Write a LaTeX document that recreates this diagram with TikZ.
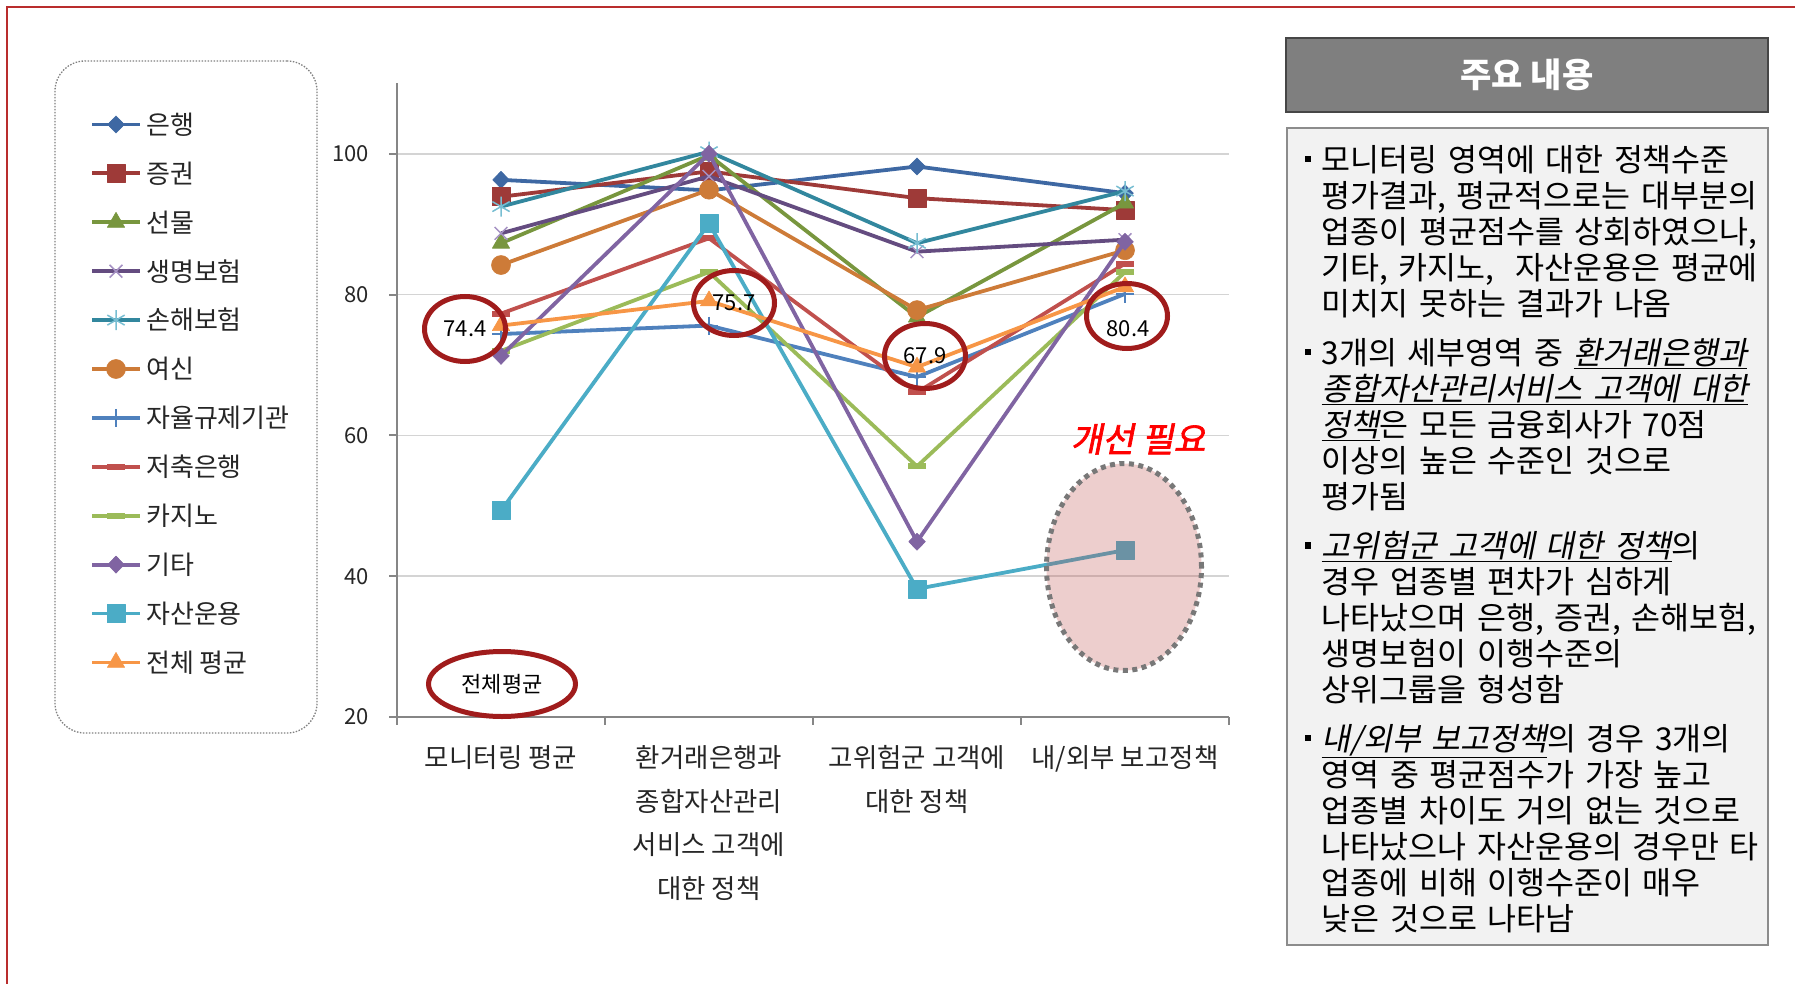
\documentclass[tikz,border=0pt]{standalone}
\usepackage{fontspec}
\setmainfont{Noto Sans CJK KR}
\newfontfamily\slantkr{Noto Sans CJK KR}[FakeSlant=0.2]
\newfontfamily\alertkr{Noto Sans CJK KR}[FakeSlant=0.2,FakeBold=2]
\usetikzlibrary{positioning,shapes.geometric,plotmarks}

\definecolor{frameRed}{RGB}{185,45,45}
\definecolor{ringRed}{RGB}{160,28,28}
\definecolor{gridGray}{RGB}{212,212,212}
\definecolor{axisGray}{RGB}{134,134,134}
\definecolor{textDark}{RGB}{38,38,38}
\definecolor{cBank}{RGB}{62,104,163}
\definecolor{cSec}{RGB}{158,58,56}
\definecolor{cFut}{RGB}{120,150,62}
\definecolor{cLife}{RGB}{100,76,128}
\definecolor{lLife}{RGB}{165,145,195}
\definecolor{cNonlife}{RGB}{50,135,158}
\definecolor{lNonlife}{RGB}{120,190,210}
\definecolor{cCredit}{RGB}{205,123,56}
\definecolor{cSelf}{RGB}{79,129,189}
\definecolor{cSaving}{RGB}{192,80,77}
\definecolor{cCasino}{RGB}{155,187,89}
\definecolor{cEtc}{RGB}{128,100,162}
\definecolor{cAsset}{RGB}{75,172,198}
\definecolor{cAvg}{RGB}{247,150,70}
\definecolor{needFill}{RGB}{192,80,77}
\definecolor{needBorder}{RGB}{120,120,120}
\definecolor{headFill}{RGB}{127,127,127}
\definecolor{headBorder}{RGB}{70,70,70}
\definecolor{bodyFill}{RGB}{242,242,242}
\definecolor{bodyBorder}{RGB}{140,140,140}

\newcommand{\sqbul}{\leavevmode\llap{\raisebox{9pt}{\rule{6pt}{6pt}}\hspace{11pt}}}
\newcommand{\emul}[1]{\underline{{\slantkr #1}}}

\tikzset{
  ser/.style={line width=3.8pt, line join=round},
  sBank/.style={ser, cBank, mark=diamond*, mark size=8.5pt, mark options={fill=cBank, line width=0.6pt, xscale=1.3}},
  sSec/.style={ser, cSec, mark=square*, mark size=9pt, mark options={fill=cSec, line width=0.6pt}},
  sFut/.style={ser, cFut, mark=triangle*, mark size=10pt, mark options={fill=cFut, line width=0.6pt}},
  sLife/.style={ser, cLife, mark=x, mark size=9pt, mark options={draw=lLife, line width=1.5pt}},
  sNonlife/.style={ser, cNonlife, mark=asterisk, mark size=10pt, mark options={draw=lNonlife, line width=1.5pt}},
  sCredit/.style={ser, cCredit, mark=*, mark size=9.5pt, mark options={fill=cCredit, line width=0.6pt}},
  sSelf/.style={ser, cSelf, mark=+, mark size=9pt, mark options={line width=2pt}},
  sSaving/.style={ser, cSaving, mark=-, mark size=9pt, mark options={line width=6pt}},
  sCasino/.style={ser, cCasino, mark=-, mark size=9pt, mark options={line width=6pt}},
  sEtc/.style={ser, cEtc, mark=diamond*, mark size=8.5pt, mark options={fill=cEtc, line width=0.6pt, xscale=1.3}},
  sAsset/.style={ser, cAsset, mark=square*, mark size=9pt, mark options={fill=cAsset, line width=0.6pt}},
  sAvg/.style={ser, cAvg, mark=triangle*, mark size=10pt, mark options={fill=cAvg, line width=0.6pt}},
  gridline/.style={gridGray, line width=1.5pt},
  axisline/.style={axisGray, line width=2pt},
  ytick/.style={left=19pt, inner sep=0pt, text=textDark, font=\fontsize{22}{26}\selectfont},
  catlab/.style={align=center, inner sep=0pt, text=textDark, font=\fontsize{26.5}{43.5}\selectfont},
  legtxt/.style={anchor=west, inner sep=0pt, text=textDark, font=\fontsize{26}{30}\selectfont},
  legbox/.style={draw=gray, line width=1.3pt, dash pattern=on 1.5pt off 1.5pt, rounded corners=30pt, minimum width=262pt, minimum height=672pt},
  ring/.style={ellipse, draw=ringRed, line width=5pt, minimum width=81pt, minimum height=65pt, inner sep=0pt, font=\fontsize{22}{26}\selectfont},
  needzone/.style={ellipse, draw=needBorder, line width=5pt, dash pattern=on 5pt off 4.5pt, fill=needFill, fill opacity=0.28, draw opacity=1, minimum width=155pt, minimum height=207pt},
  alert/.style={text=red, font=\fontsize{34.5}{38}\selectfont\alertkr},
  headbox/.style={draw=headBorder, line width=2.5pt, fill=headFill, minimum width=482pt, minimum height=74pt, text=white, font=\fontsize{34}{38}\selectfont\bfseries},
  bodybox/.style={draw=bodyBorder, line width=2pt, fill=bodyFill, minimum width=481pt, minimum height=817pt},
  bodytext/.style={anchor=north west, align=left, text width=450pt, inner sep=0pt, font=\fontsize{31.5}{36}\selectfont}
}

\begin{document}
\begin{tikzpicture}[x=1pt, y=-1pt]
  \useasboundingbox (0,0) rectangle (1795,984);
  \draw[frameRed, line width=2.5pt] (7,984) -- (7,7) -- (1795,7);

  \node[legbox] (legend) at (186,397) {};
  \foreach \s/\name [count=\k from 0] in {sBank/은행, sSec/증권, sFut/선물, sLife/생명보험, sNonlife/손해보험, sCredit/여신, sSelf/자율규제기관, sSaving/저축은행, sCasino/카지노, sEtc/기타, sAsset/자산운용, sAvg/전체 평균} {
    \pgfmathsetmacro{\ly}{124.5+48.9*\k}
    \draw[\s, mark indices={2}] plot coordinates {(92,\ly) (116,\ly) (140,\ly)};
    \node[legtxt] (leg\k) at (146,\ly) {\name};
  }

  \begin{scope}[shift={(293,857.8)}, x=208pt, y=7.04pt]
    \foreach \v in {40,60,80,100}
      \draw[gridline] (0.5,\v) -- (4.5,\v);
    \draw[axisline] (0.5,20) -- (0.5,110);
    \draw[axisline] (0.5,20) -- (4.5,20);
    \foreach \v in {20,40,...,100}
      \draw[axisline] (0.5,\v) -- ++(-8pt,0) node[ytick] (ylab\v) {\v};
    \foreach \c in {0,...,4}
      \draw[axisline] (\c+0.5,20) -- ++(0,-8pt);
    \foreach \txt [count=\i] in {모니터링 평균, {환거래은행과\\종합자산관리\\서비스 고객에\\대한 정책}, {고위험군 고객에\\대한 정책}, 내/외부 보고정책}
      \node[catlab, below=28.5pt] (cat\i) at (\i,20) {\txt};
    \foreach \s/\a/\b/\c/\d in {sBank/96.3/94.8/98.2/94.4, sSec/93.9/97.5/93.7/92.0, sFut/87.3/99.8/76.8/93.0, sLife/88.7/96.8/86.1/87.8, sNonlife/92.5/100.3/87.3/94.7, sCredit/84.2/94.9/77.8/86.3, sSelf/74.4/75.6/68.3/80.1, sSaving/77.3/88.0/66.1/84.4, sCasino/72.0/83.2/55.6/83.2, sEtc/71.3/100.0/44.9/87.5, sAsset/49.3/90.1/38.2/43.7, sAvg/75.6/79.1/69.7/81.1}
      \draw[\s] plot coordinates {(1,\a) (2,\b) (3,\c) (4,\d)};
  \end{scope}

  \node[ring] (avgA) at (465,329) {74.4};
  \node[ring] (avgB) at (734,303) {75.7};
  \node[ring] (avgC) at (925,356) {67.9};
  \node[ring] (avgD) at (1127,316) {};
  \node[inner sep=0pt, font=\fontsize{22}{26}\selectfont] (avgDtxt) at (1128,329) {80.4};
  \node[ring, minimum width=147pt] (avgKey) at (502,684) {전체평균};

  \node[needzone] (need) at (1124,567) {};
  \node[alert] (needtxt) at (1138,439) {개선 필요};

  \node[headbox] (head) at (1527,75) {주요 내용};
  \node[bodybox, below=14pt of head] (body) {};
  \node[bodytext] (bodytxt) at ([xshift=36pt, yshift=-18pt]body.north west) {%
    \sqbul 모니터링 영역에 대한 정책수준\\
    평가결과, 평균적으로는 대부분의\\
    업종이 평균점수를 상회하였으나,\\
    기타, 카지노,\ \ 자산운용은 평균에\\
    미치지 못하는 결과가 나옴\\[13pt]
    \sqbul 3개의 세부영역 중 \emul{환거래은행과}\\
    \emul{종합자산관리서비스 고객에 대한}\\
    \emul{정책}은 모든 금융회사가 70점\\
    이상의 높은 수준인 것으로\\
    평가됨\\[13pt]
    \sqbul \emul{고위험군 고객에 대한 정책}의\\
    경우 업종별 편차가 심하게\\
    나타났으며 은행, 증권, 손해보험,\\
    생명보험이 이행수준의\\
    상위그룹을 형성함\\[13pt]
    \sqbul \emul{내/외부 보고정책}의 경우 3개의\\
    영역 중 평균점수가 가장 높고\\
    업종별 차이도 거의 없는 것으로\\
    나타났으나 자산운용의 경우만 타\\
    업종에 비해 이행수준이 매우\\
    낮은 것으로 나타남};
\end{tikzpicture}
\end{document}
